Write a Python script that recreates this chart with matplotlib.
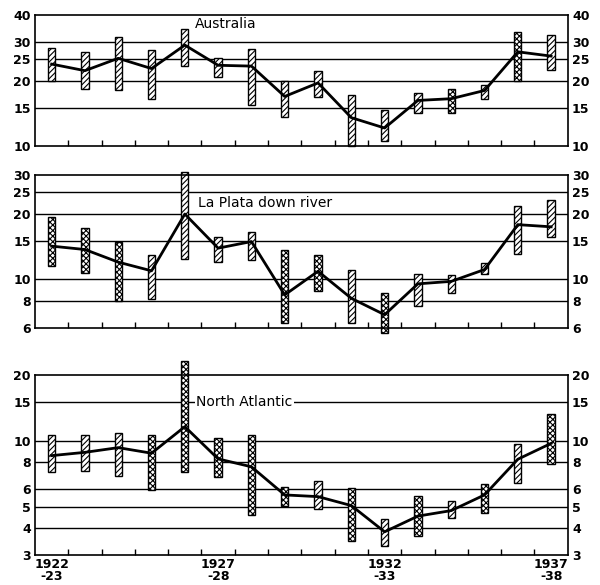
import matplotlib
matplotlib.use("Agg")
import matplotlib.pyplot as plt
import numpy as np
from matplotlib.ticker import FixedLocator, NullLocator, FixedFormatter

plt.rcParams['font.family'] = ['DejaVu Sans']
plt.rcParams['hatch.linewidth'] = 0.8

years = list(range(16))
year_labels = ["1922\n-23", "1927\n-28", "1932\n-33", "1937\n-38"]
year_label_pos = [0, 5, 10, 15]

# Australia
aus_mean = [23.8, 22.2, 25.3, 22.7, 29.1, 23.5, 23.3, 16.9, 19.5, 13.5, 12.1, 16.2, 16.5, 18.0, 27.1, 25.9]
aus_high = [28.3, 27.1, 31.6, 27.6, 34.6, 25.4, 27.8, 20.0, 22.1, 17.1, 14.6, 17.6, 18.2, 19.0, 33.5, 32.4]
aus_low = [20.0, 18.2, 18.0, 16.4, 23.3, 20.8, 15.5, 13.6, 16.8, 10.0, 10.6, 14.2, 14.2, 16.4, 19.9, 22.3]
aus_kind = ["S", "S", "S", "S", "S", "S", "S", "S", "S", "S", "S", "S", "D", "S", "D", "S"]

# La Plata down river
lp_mean = [14.2, 13.7, 12.0, 10.95, 19.9, 13.9, 14.9, 8.5, 10.9, 8.2, 6.9, 9.55, 9.8, 11.1, 17.8, 17.4]
lp_high = [19.2, 17.1, 14.9, 12.9, 31.0, 15.6, 16.4, 13.7, 12.9, 11.0, 8.7, 10.6, 10.5, 11.9, 21.7, 23.1]
lp_low = [11.5, 10.7, 8.0, 8.1, 12.4, 12.0, 12.3, 6.3, 8.9, 6.3, 5.7, 7.6, 8.7, 10.6, 13.1, 15.7]
lp_kind = ["D", "D", "D", "S", "S", "S", "S", "D", "D", "S", "D", "S", "S", "S", "S", "S"]

# North Atlantic
na_mean = [8.55, 8.85, 9.3, 8.77, 11.6, 8.26, 7.6, 5.65, 5.55, 5.05, 3.83, 4.52, 4.79, 5.65, 8.23, 9.73]
na_high = [10.6, 10.6, 10.9, 10.6, 23.2, 10.3, 10.6, 6.12, 6.57, 6.1, 4.38, 5.6, 5.32, 6.34, 9.67, 13.3]
na_low = [7.2, 7.3, 6.9, 5.95, 7.17, 6.85, 4.58, 5.05, 4.87, 3.48, 3.3, 3.68, 4.42, 4.65, 6.38, 7.83]
na_kind = ["S", "S", "S", "D", "D", "D", "D", "D", "S", "D", "S", "D", "S", "D", "S", "D"]

panels = [
    dict(name="Australia", mean=aus_mean, high=aus_high, low=aus_low, kind=aus_kind,
         ylim=(10, 40), ticks=[10, 15, 20, 25, 30, 40], grid=[15, 20, 25, 30],
         rect=[0.0583, 0.7504, 0.888, 0.2239], label_xy=(4.3, 36.5), box=False),
    dict(name="La Plata down river", mean=lp_mean, high=lp_high, low=lp_low, kind=lp_kind,
         ylim=(6, 30), ticks=[6, 8, 10, 15, 20, 25, 30], grid=[8, 10, 15, 20, 25],
         rect=[0.0583, 0.4393, 0.888, 0.2615], label_xy=(4.4, 22.3), box=False),
    dict(name="North Atlantic", mean=na_mean, high=na_high, low=na_low, kind=na_kind,
         ylim=(3, 20), ticks=[3, 4, 5, 6, 8, 10, 15, 20], grid=[4, 5, 6, 8, 10, 15],
         rect=[0.0583, 0.0513, 0.888, 0.3077], label_xy=(4.35, 15), box=True),
]

fig = plt.figure(figsize=(6.0, 5.85), dpi=100)

for i, p in enumerate(panels):
    ax = fig.add_axes(p["rect"])
    ax.set_yscale("log")
    ax.set_ylim(*p["ylim"])
    ax.set_xlim(-0.5, 15.5)
    for g in p["grid"]:
        ax.axhline(g, color="black", lw=1.0, zorder=1)
    high = np.array(p["high"])
    low = np.array(p["low"])
    for x, h, l, k in zip(years, high, low, p["kind"]):
        hatch = "//////" if k == "S" else "xxxxxx"
        ax.bar(x, h - l, bottom=l, width=0.22, facecolor="white", edgecolor="black",
               hatch=hatch, linewidth=1.0, zorder=2, clip_on=False)
    ax.plot(years, p["mean"], color="black", lw=2.0, zorder=3)

    ax.yaxis.set_major_locator(FixedLocator(p["ticks"]))
    ax.yaxis.set_major_formatter(FixedFormatter([str(t) for t in p["ticks"]]))
    ax.yaxis.set_minor_locator(NullLocator())
    ax.tick_params(axis="y", which="both", length=0, labelleft=True, labelright=True,
                   labelsize=9, pad=3)
    for lab in ax.get_yticklabels():
        lab.set_fontweight("bold")

    ax.xaxis.set_minor_locator(FixedLocator([x + 0.5 for x in years[:-1]]))
    ax.tick_params(axis="x", which="minor", direction="in", length=4, width=1.0, bottom=True)
    ax.xaxis.set_major_locator(FixedLocator(year_label_pos))
    if i == 2:
        ax.xaxis.set_major_formatter(FixedFormatter(year_labels))
        ax.tick_params(axis="x", which="major", length=0, labelsize=9, pad=2)
        for lab in ax.get_xticklabels():
            lab.set_fontweight("bold")
            lab.set_linespacing(0.9)
    else:
        ax.tick_params(axis="x", which="major", length=0, labelbottom=False)

    for s in ax.spines.values():
        s.set_linewidth(1.2)

    bbox = dict(facecolor="white", edgecolor="none", pad=1) if p["box"] else None
    ax.text(p["label_xy"][0], p["label_xy"][1], p["name"], fontsize=10, va="center",
            ha="left", bbox=bbox, zorder=4)

fig.savefig("out.png", dpi=100)
